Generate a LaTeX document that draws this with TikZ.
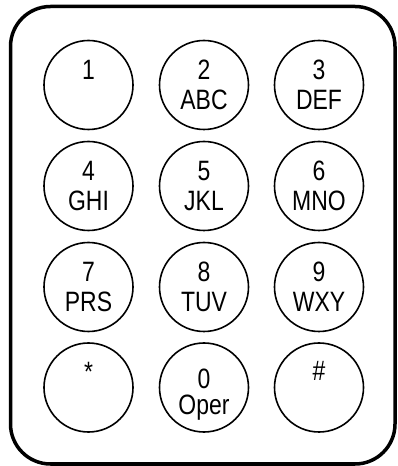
\documentclass[tikz,border=0pt]{standalone}
\usepackage{fontspec}
\setmainfont[FakeStretch=0.82]{Liberation Sans}

\begin{document}
\begin{tikzpicture}[x=1pt, y=1pt,
        tasto/.style={draw, circle, line width=1.6pt, minimum size=89pt, inner sep=0pt},
        cifra/.style={anchor=base, inner sep=0pt, yshift=5.7pt, font=\fontsize{28}{33}\selectfont},
        lettere/.style={cifra, yshift=-30.7pt}]
        % dbg grid
        %\draw[help lines, step=10] (0,0) grid (398,466);
        \useasboundingbox (0,0) rectangle (398,466);

        % cornice
        \draw[line width=3.5pt, rounded corners=40pt] (10.5,2) rectangle (395,459.5);

        % tasti
        \node[tasto] (k1)  at (88.5,381) {};
        \node[tasto] (k2)  at (204,381)  {};
        \node[tasto] (k3)  at (319,381)  {};
        \node[tasto] (k4)  at (88.5,280) {};
        \node[tasto] (k5)  at (204,280)  {};
        \node[tasto] (k6)  at (319,280)  {};
        \node[tasto] (k7)  at (88.5,179) {};
        \node[tasto] (k8)  at (204,179)  {};
        \node[tasto] (k9)  at (319,179)  {};
        \node[tasto] (kst) at (88.5,78.5) {};
        \node[tasto] (k0)  at (204,78.5)  {};
        \node[tasto] (kcn) at (319,78.5)  {};

        % cifre
        \node[cifra] (c1) at (k1) {1};
        \node[cifra] (c2) at (k2) {2};
        \node[cifra] (c3) at (k3) {3};
        \node[cifra] (c4) at (k4) {4};
        \node[cifra] (c5) at (k5) {5};
        \node[cifra] (c6) at (k6) {6};
        \node[cifra] (c7) at (k7) {7};
        \node[cifra] (c8) at (k8) {8};
        \node[cifra] (c9) at (k9) {9};
        \node[cifra] (cst) at (kst) {*};
        \node[cifra, yshift=-6.7pt] (c0) at (k0) {0};
        \node[cifra, yshift=0.8pt] (ccn) at (kcn) {\#};

        % lettere
        \node[lettere] (l2) at (k2) {ABC};
        \node[lettere] (l3) at (k3) {DEF};
        \node[lettere] (l4) at (k4) {GHI};
        \node[lettere] (l5) at (k5) {JKL};
        \node[lettere] (l6) at (k6) {MNO};
        \node[lettere] (l7) at (k7) {PRS};
        \node[lettere] (l8) at (k8) {TUV};
        \node[lettere] (l9) at (k9) {WXY};
        \node[lettere, yshift=-2.5pt] (l0) at (k0) {Oper};
\end{tikzpicture}
\end{document}
